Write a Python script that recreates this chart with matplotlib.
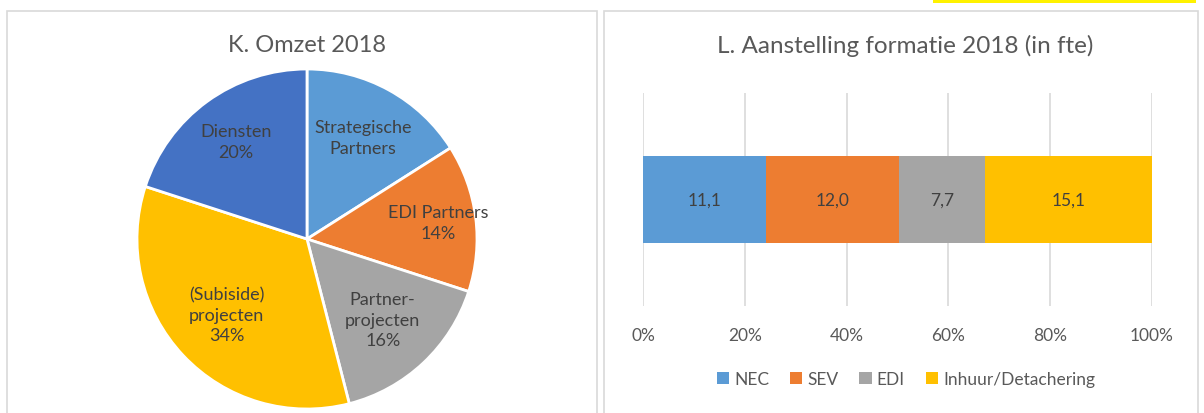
import numpy as np
import matplotlib
matplotlib.use("Agg")
import matplotlib.pyplot as plt
from matplotlib.patches import Rectangle

plt.rcParams['font.family'] = ['Lato', 'DejaVu Sans']

# pie data (K. Omzet 2018)
pie_labels = ['Strategische\nPartners', 'EDI Partners\n14%', 'Partner-\nprojecten\n16%',
              '(Subiside)\nprojecten\n34%', 'Diensten\n20%']
pie_values = [16, 14, 16, 34, 20]
pie_colors = ['#5B9BD5', '#ED7D31', '#A5A5A5', '#FFC000', '#4472C4']
label_radius = [0.68, 0.78, 0.65, 0.65, 0.71]

# bar data (L. Aanstelling formatie 2018)
bar_names = ['NEC', 'SEV', 'EDI', 'Inhuur/Detachering']
bar_values = [11.1, 12.0, 7.7, 15.1]
bar_colors = ['#5B9BD5', '#ED7D31', '#A5A5A5', '#FFC000']

W, H = 1204, 414
fig = plt.figure(figsize=(W / 100, H / 100), dpi=100)
fig.patch.set_facecolor('white')

# panel borders and yellow marker at the top
for x0, x1 in [(7, 597), (604, 1198)]:
    fig.patches.append(Rectangle((x0 / W, -0.05), (x1 - x0) / W, (H - 12) / H + 0.05,
                                 transform=fig.transFigure, fill=False,
                                 edgecolor='#D9D9D9', lw=1.2))
fig.patches.append(Rectangle((933 / W, (H - 3.5) / H), (1196 - 933) / W, 3.5 / H,
                             transform=fig.transFigure, facecolor='#FFF200',
                             edgecolor='none'))

# ---- pie ----
r_px = 170
cx, cy = 307, 240
ax1 = fig.add_axes([(cx - 1.03 * r_px) / W, (H - cy - 1.03 * r_px) / H,
                    2.06 * r_px / W, 2.06 * r_px / H])
wedges, _ = ax1.pie(pie_values, colors=pie_colors, startangle=90, counterclock=False,
                    wedgeprops=dict(edgecolor='white', linewidth=2))
for w, lab, rr in zip(wedges, pie_labels, label_radius):
    ang = np.deg2rad((w.theta1 + w.theta2) / 2)
    ax1.text(rr * np.cos(ang), rr * np.sin(ang), lab, ha='center', va='center',
             fontsize=13, color='#404040', linespacing=1.35)
ax1.set_xlim(-1.03, 1.03)
ax1.set_ylim(-1.03, 1.03)
ax1.set_aspect('equal')
ax1.axis('off')
fig.text(cx / W, (H - 46) / H, 'K. Omzet 2018', ha='center', va='center',
         fontsize=17, color='#595959')

# ---- 100% stacked bar ----
x_left, x_right, y_top, y_bot = 643, 1152, 94, 307
ax2 = fig.add_axes([x_left / W, (H - y_bot) / H, (x_right - x_left) / W, (y_bot - y_top) / H])
total = sum(bar_values)
left = 0
for name, val, col in zip(bar_names, bar_values, bar_colors):
    frac = val / total
    ax2.barh(0, frac, left=left, height=0.404, color=col, label=name, zorder=3)
    ax2.text(left + frac / 2, 0, f'{val:.1f}'.replace('.', ','), ha='center', va='center',
             fontsize=12.5, color='#404040', zorder=4)
    left += frac
ax2.set_xlim(0, 1)
ax2.set_ylim(-0.5, 0.5)
ax2.set_xticks(np.linspace(0, 1, 6))
ax2.set_xticklabels([f'{int(t * 100)}%' for t in np.linspace(0, 1, 6)])
ax2.tick_params(axis='x', length=0, pad=15, labelsize=12.5, labelcolor='#595959')
ax2.set_yticks([])
ax2.grid(axis='x', color='#D9D9D9', lw=1.2, zorder=0)
for s in ax2.spines.values():
    s.set_visible(False)
fig.text(905 / W, (H - 46) / H, 'L. Aanstelling formatie 2018 (in fte)', ha='center',
         va='center', fontsize=17.5, color='#595959')
fig.legend(*ax2.get_legend_handles_labels(), loc='center', bbox_to_anchor=(906 / W, (H - 380) / H),
           ncol=4, frameon=False, fontsize=12.5, labelcolor='#595959', handlelength=0.7,
           handleheight=0.7, handletextpad=0.3, columnspacing=1.2)

fig.savefig('out.png', dpi=100, facecolor='white')
